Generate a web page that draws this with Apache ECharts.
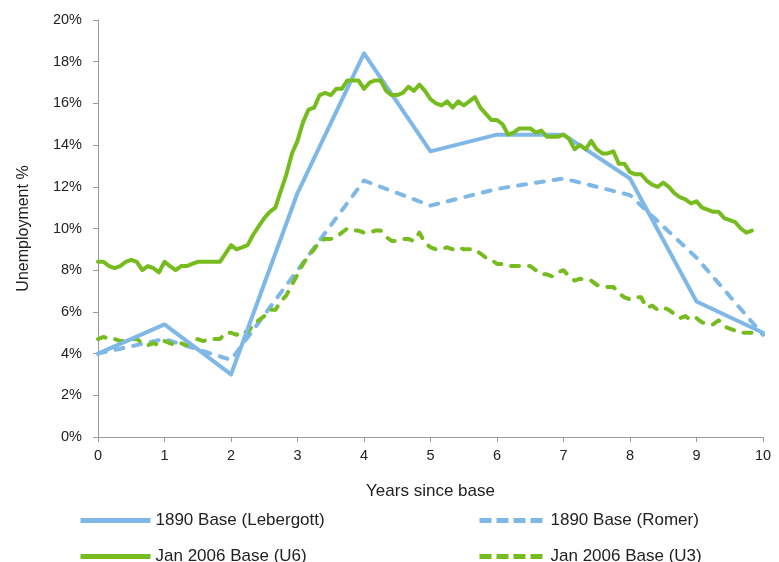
<!DOCTYPE html>
<html><head><meta charset="utf-8">
<script src="https://cdn.jsdelivr.net/npm/echarts@6/dist/echarts.min.js"></script>
<style>html,body{margin:0;padding:0;background:#fff}#c{width:779px;height:562px}</style>
</head><body><div id="c"></div>
<script>
var years = [0,1,2,3,4,5,6,7,8,9,10];
var lebergott = [4.0,5.4,3.0,11.7,18.4,13.7,14.5,14.5,12.4,6.5,5.0];
var romer = [4.0,4.7,3.7,8.0,12.3,11.1,11.9,12.4,11.6,8.6,4.9];
var u6 = [
8.4,8.4,8.2,8.1,8.2,8.4,8.5,8.4,8.0,8.2,8.1,7.9,
8.4,8.2,8.0,8.2,8.2,8.3,8.4,8.4,8.4,8.4,8.4,8.8,
9.2,9.0,9.1,9.2,9.7,10.1,10.5,10.8,11.0,11.8,12.6,13.6,
14.2,15.1,15.7,15.8,16.4,16.5,16.4,16.7,16.7,17.1,17.1,17.1,
16.7,17.0,17.1,17.1,16.6,16.4,16.4,16.5,16.8,16.6,16.9,16.6,
16.2,16.0,15.9,16.1,15.8,16.1,15.9,16.1,16.3,15.8,15.5,15.2,
15.2,15.0,14.5,14.6,14.8,14.8,14.8,14.6,14.7,14.4,14.4,14.4,
14.5,14.3,13.8,14.0,13.8,14.2,13.8,13.6,13.6,13.7,13.1,13.1,
12.7,12.6,12.6,12.3,12.1,12.0,12.2,12.0,11.7,11.5,11.4,11.2,
11.3,11.0,10.9,10.8,10.8,10.5,10.4,10.3,10.0,9.8,9.9];
var u3 = [
4.7,4.8,4.7,4.7,4.6,4.6,4.7,4.7,4.5,4.4,4.5,4.4,
4.6,4.5,4.4,4.5,4.4,4.6,4.7,4.6,4.7,4.7,4.7,5.0,
5.0,4.9,5.1,5.0,5.4,5.6,5.8,6.1,6.1,6.5,6.8,7.3,
7.8,8.3,8.7,9.0,9.4,9.5,9.5,9.6,9.8,10.0,9.9,9.9,
9.8,9.8,9.9,9.9,9.6,9.4,9.4,9.5,9.5,9.4,9.8,9.3,
9.1,9.0,9.0,9.1,9.0,9.1,9.0,9.0,9.0,8.8,8.6,8.5,
8.3,8.3,8.2,8.2,8.2,8.2,8.2,8.0,7.8,7.8,7.7,7.9,
8.0,7.7,7.5,7.6,7.5,7.5,7.3,7.2,7.2,7.2,6.9,6.7,
6.6,6.7,6.7,6.2,6.3,6.1,6.2,6.1,5.9,5.7,5.8,5.6,
5.7,5.5,5.4,5.4,5.6,5.3,5.2,5.1,5.0,5.0,5.0];
var names = ['1890 Base (Lebergott)','1890 Base (Romer)','Jan 2006 Base (U6)','Jan 2006 Base (U3)'];

var BLUE = '#7fb8e6', GREEN = '#77bc1f';
function annual(arr){ return arr.map(function(v,i){ return [years[i], v]; }); }
function monthly(arr){ return arr.map(function(v,i){ return [i/12, v]; }); }
var FONT = '"Liberation Sans", Arial, sans-serif';
var chart = echarts.init(document.getElementById('c'), null, {renderer:'canvas'});
function ser(name, data, color, dashed){
  return {name:name, type:'line', data:data, showSymbol:false, symbol:'none', smooth:false,
    lineStyle:{color:color, width:4, type: dashed ? [8,10] : 'solid', cap:'round', join:'round'},
    itemStyle:{color:color}, z: dashed ? 2 : 3, animation:false};
}
function leg(name, left, top, w, dashed){
  return {data:[name], orient:'horizontal', left:left, top:top, itemWidth:w, itemHeight:14, itemGap:0,
    itemStyle:{opacity:0}, selectedMode:false,
    lineStyle:{width:5, type: dashed ? [12,5] : 'solid', cap:'butt'},
    textStyle:{fontSize:17, color:'#222', fontFamily:FONT}};
}
chart.setOption({
  animation:false,
  textStyle:{fontFamily:FONT},
  grid:{left:98, right:16, top:20, bottom:125},
  xAxis:{type:'value', min:0, max:10, interval:1,
    name:'Years since base', nameLocation:'middle', nameGap:46,
    nameTextStyle:{fontSize:17, color:'#222', fontFamily:FONT},
    axisLine:{lineStyle:{color:'#999', width:1}},
    axisTick:{show:true, length:5, lineStyle:{color:'#999'}},
    axisLabel:{fontSize:14.5, color:'#222', margin:11, fontFamily:FONT},
    splitLine:{show:false}},
  yAxis:{type:'value', min:0, max:20, interval:2,
    name:'Unemployment %', nameLocation:'middle', nameGap:66, nameRotate:90,
    nameTextStyle:{fontSize:16, color:'#222', fontFamily:FONT},
    axisLine:{show:true, lineStyle:{color:'#999', width:1}},
    axisTick:{show:true, length:5, lineStyle:{color:'#999'}},
    axisLabel:{fontSize:14.5, color:'#222', margin:16, formatter:'{value}%', fontFamily:FONT},
    splitLine:{show:false}},
  legend:[
    leg(names[0], 73, 507, 70, false),
    leg(names[1], 472, 507, 66, true),
    leg(names[2], 73, 543, 70, false),
    leg(names[3], 472, 543, 66, true)
  ],
  series:[
    ser(names[1], annual(romer), BLUE, true),
    ser(names[3], monthly(u3), GREEN, true),
    ser(names[0], annual(lebergott), BLUE, false),
    ser(names[2], monthly(u6), GREEN, false)
  ]
});
</script></body></html>
